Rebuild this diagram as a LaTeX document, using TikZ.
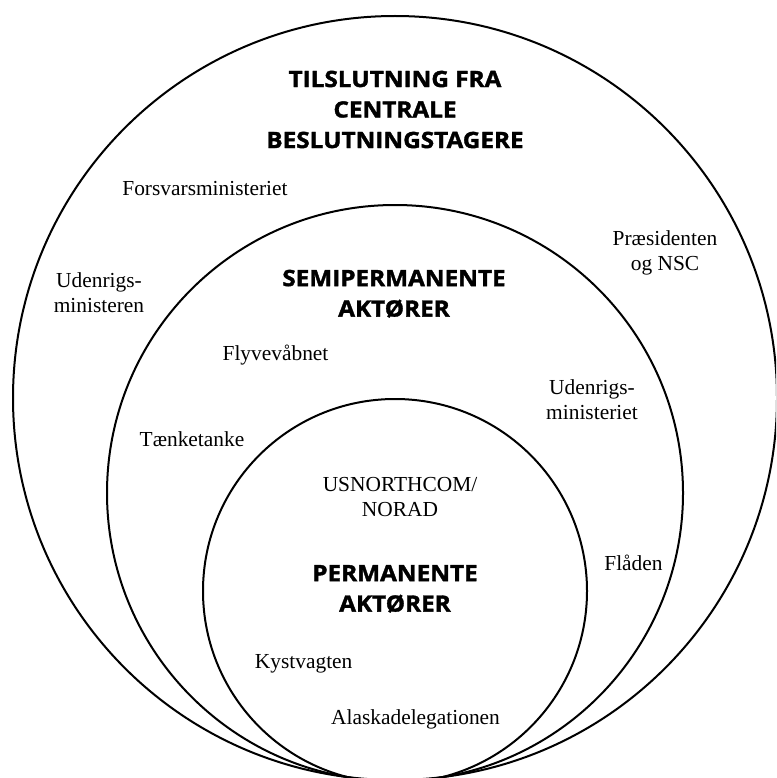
\documentclass[tikz,border=0pt]{standalone}
\usepackage{fontspec}
\setmainfont{Liberation Serif}
\newfontfamily\titlefont{Open Sans Bold}[FakeStretch=1.08, FakeBold=1.6]
\begin{document}
\begin{tikzpicture}[x=1pt,y=-1pt,
  ring/.style={draw=black, line width=2pt, circle, inner sep=0pt, outer sep=0pt},
  lbl/.style={font=\fontsize{21.4}{25}\selectfont, inner sep=0pt, align=center},
  ttl/.style={font=\titlefont\fontsize{22.5}{30.5}\selectfont, inner sep=0pt, align=center}]
\useasboundingbox (0,0) rectangle (776,778);
\clip (0,0) rectangle (776,778);
% rings
\node[ring, minimum size=764pt] (outer) at (395,398) {};
\node[ring, minimum size=576pt] (middle) at (395,493) {};
\node[ring, minimum size=384pt] (inner) at (395,591) {};
% titles
\node[ttl] (toptitle) at (395,109.5) {TILSLUTNING FRA\\CENTRALE\\BESLUTNINGSTAGERE};
\node[ttl] (semititle) at (394,293.7) {SEMIPERMANENTE\\AKTØRER};
\node[ttl] (permtitle) at (395,588.8) {PERMANENTE\\AKTØRER};
% outer ring labels
\node[lbl, anchor=base] (forsvar) at (205,195) {Forsvarsministeriet};
\node[lbl] (udenrigsmin) at (99,292.2) {Udenrigs-\\ministeren};
\node[lbl] (praes) at (665,252.5) {Præsidenten\\og NSC};
% middle ring labels
\node[lbl, anchor=base] (flyv) at (275.5,360) {Flyvevåbnet};
\node[lbl] (udenrigsmini) at (592,399.2) {Udenrigs-\\ministeriet};
\node[lbl, anchor=base] (taenk) at (192,446) {Tænketanke};
\node[lbl, anchor=base] (flaaden) at (633.5,570) {Flåden};
% inner ring labels
\node[lbl] (usn) at (400,497.2) {USNORTHCOM/\\NORAD};
\node[lbl, anchor=base] (kyst) at (303.7,668.3) {Kystvagten};
\node[lbl, anchor=base] (alaska) at (415.5,724) {Alaskadelegationen};
\end{tikzpicture}
\end{document}
